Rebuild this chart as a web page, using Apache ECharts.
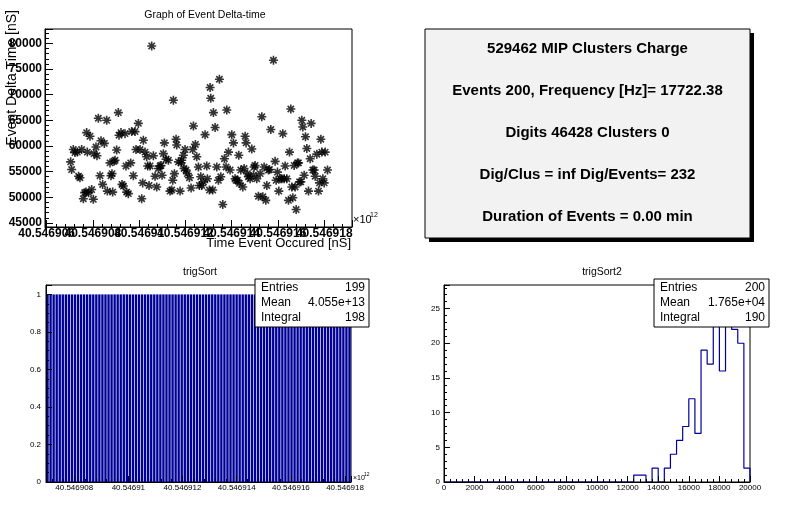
<!DOCTYPE html>
<html>
<head>
<meta charset="utf-8">
<title>MIP clusters - trigger timing</title>
<script src="https://cdn.jsdelivr.net/npm/echarts@6.0.0/dist/echarts.min.js"></script>
<style>
    html, body { margin: 0; padding: 0; background: #ffffff; }
    #canvas { width: 798px; height: 512px; }
</style>
</head>
<body>
<div id="canvas"></div>
<script>
    // time axis values are offsets from 40.5469 x10^12 nS, in units of 1e6 nS
    var timeBase = 40.5469;

    // Graph of Event Delta-time : event time / delta time [nS]
    var eventTime = [
        7.038, 7.081, 7.154, 7.226, 7.327, 7.384, 7.442, 7.514, 7.586, 7.644,
        7.702, 7.730, 7.759, 7.817, 7.875, 7.947, 8.019, 8.048, 8.134, 8.177,
        8.235, 8.307, 8.350, 8.422, 8.495, 8.596, 8.624, 8.740, 8.783, 8.826,
        8.855, 8.913, 8.956, 9.028, 9.100, 9.129, 9.216, 9.259, 9.317, 9.389,
        9.432, 9.461, 9.533, 9.634, 9.677, 9.749, 9.821, 9.864, 9.965, 10.038,
        10.110, 10.153, 10.182, 10.254, 10.326, 10.369, 10.427, 10.470, 10.542, 10.614,
        10.686, 10.758, 10.831, 10.903, 10.946, 10.989, 11.047, 11.090, 11.162, 11.263,
        11.335, 11.407, 11.451, 11.479, 11.523, 11.595, 11.624, 11.696, 11.768, 11.811,
        11.840, 11.912, 11.941, 11.984, 12.027, 12.085, 12.172, 12.244, 12.316, 12.345,
        12.431, 12.489, 12.561, 12.604, 12.662, 12.705, 12.777, 12.849, 12.921, 12.950,
        13.037, 13.066, 13.094, 13.181, 13.210, 13.282, 13.354, 13.426, 13.469, 13.527,
        13.614, 13.686, 13.758, 13.787, 13.859, 13.931, 14.003, 14.075, 14.147, 14.190,
        14.248, 14.306, 14.335, 14.392, 14.479, 14.536, 14.580, 14.623, 14.681, 14.724,
        14.796, 14.868, 14.940, 14.969, 15.012, 15.084, 15.156, 15.229, 15.301, 15.344,
        15.402, 15.474, 15.517, 15.589, 15.632, 15.690, 15.805, 15.877, 15.921, 15.978,
        16.036, 16.094, 16.166, 16.209, 16.267, 16.310, 16.382, 16.454, 16.498, 16.555,
        16.598, 16.642, 16.699, 16.742, 16.786, 16.844, 16.887, 16.930, 16.988, 17.031,
        17.074, 17.132, 17.190, 17.247, 17.319, 17.391, 17.435, 17.507, 17.565, 17.608,
        17.680, 17.752, 17.795, 17.853, 17.896, 17.940, 17.997, 18.040, 18.141
    ];
    var eventDelta = [
        56900, 55400, 59300, 58700, 58800, 54100, 53800, 59300, 49700, 50900,
        51000, 62600, 58800, 50900, 61900, 51500, 49600, 58500, 59800, 58100,
        65400, 54200, 61000, 52500, 60500, 65000, 51200, 56700, 54200, 54600,
        51000, 57000, 57200, 59200, 66500, 62100, 62600, 52500, 52200, 62400,
        56100, 51000, 50700, 56700, 62800, 54200, 62800, 59300, 64400, 59300,
        49700, 52800, 61100, 58800, 57900, 56100, 52300, 56100, 79500, 58100,
        54100, 52000, 55600, 56100, 56200, 54300, 58500, 60600, 57400, 57200,
        51200, 51400, 53300, 68900, 54600, 61300, 60200, 56900, 51200, 56700,
        57200, 58200, 55600, 59300, 55300, 54600, 53800, 51800, 59300, 63900,
        60300, 57900, 55900, 52300, 54000, 52300, 53000, 62200, 56100, 53600,
        51400, 71400, 69300, 51400, 66500, 63600, 55900, 53300, 73000, 54000,
        48600, 57500, 55900, 67000, 58800, 55300, 62200, 60600, 53600, 53300,
        53300, 58200, 52700, 55300, 52000, 55600, 61900, 60600, 54600, 54000,
        53600, 59400, 54300, 55900, 56200, 53600, 50200, 54600, 65700, 50100,
        55900, 49400, 52300, 55300, 55400, 63200, 76700, 57000, 53300, 54900,
        51200, 53600, 53600, 62400, 53600, 56100, 53600, 49400, 58800, 67200,
        52000, 49900, 56200, 52000, 47600, 56700, 56700, 53000, 53000, 65000,
        63700, 54300, 61800, 59500, 51200, 57500, 64400, 55300, 55300, 54100,
        58400, 51200, 52800, 61300, 58800, 53600, 52800, 58800, 55300
    ];

    // trigSort : one entry per trigger bin
    var trigSortBins = [
        1, 1, 1, 1, 1, 1, 1, 1, 1, 1,
        1, 1, 1, 1, 1, 1, 1, 1, 1, 1,
        1, 1, 1, 1, 1, 1, 1, 1, 1, 1,
        1, 1, 1, 1, 1, 1, 1, 1, 1, 1,
        1, 1, 1, 1, 1, 1, 1, 1, 1, 1,
        1, 1, 1, 1, 1, 1, 1, 1, 1, 1,
        1, 1, 1, 1, 1, 1, 1, 1, 1, 1,
        1, 1, 1, 1, 1, 1, 1, 1, 1, 1,
        1, 1, 1, 1, 1, 1, 1, 1, 1, 1,
        1, 1, 1, 1, 1, 1, 1, 1, 1, 1
    ];
    var trigSortRange = [6.96, 18.22];
    var trigSortStats = [['Entries', '199'], ['Mean', '4.055e+13'], ['Integral', '198']];

    // trigSort2 : 50 bins from 0 to 20000
    var trigSort2Range = [0, 20000];
    var trigSort2Counts = [
        0, 0, 0, 0, 0, 0, 0, 0, 0, 0,
        0, 0, 0, 0, 0, 0, 0, 0, 0, 0,
        0, 0, 0, 0, 0, 0, 0, 0, 0, 0,
        0, 1, 1, 0, 2, 0, 2, 4, 6, 8,
        12, 7, 19, 17, 27, 16, 24, 22, 20, 2
    ];
    var trigSort2Stats = [['Entries', '200'], ['Mean', '1.765e+04'], ['Integral', '190']];

    // summary pave
    var paveLines = [
        '529462 MIP Clusters Charge',
        'Events 200, Frequency [Hz]= 17722.38',
        'Digits 46428 Clusters 0',
        'Dig/Clus = inf Dig/Events= 232',
        'Duration of Events = 0.00 min'
    ];

    var FONT = 'Liberation Sans, Arial, Helvetica, sans-serif';
    var histColor = '#000099';

    function timeLabel(v) {
        return String(parseFloat((timeBase + v * 1e-6).toFixed(6)));
    }

    var scatterData = eventTime.map(function (t, i) {
        return [t, eventDelta[i]];
    });

    var binW = (trigSort2Range[1] - trigSort2Range[0]) / trigSort2Counts.length;
    var stepData = trigSort2Counts.map(function (c, i) {
        return [trigSort2Range[0] + i * binW, c];
    });
    stepData.push([trigSort2Range[1], 0]);

    var trigSortCats = trigSortBins.map(function (c, i) { return i; });

    // stats box like ROOT TPaveStats
    function statsBox(x, y, w, rows) {
        var els = [{
            type: 'rect', z: 100,
            shape: {x: x, y: y, width: w, height: 48},
            style: {fill: '#ffffff', stroke: '#000000', lineWidth: 1}
        }];
        rows.forEach(function (r, i) {
            var cy = y + 8.5 + i * 15.3;
            els.push({type: 'text', z: 101, style: {x: x + 6, y: cy, text: r[0], font: '12px ' + FONT, fill: '#000', align: 'left', verticalAlign: 'middle'}});
            els.push({type: 'text', z: 101, style: {x: x + w - 4, y: cy, text: r[1], font: '12px ' + FONT, fill: '#000', align: 'right', verticalAlign: 'middle'}});
        });
        return els;
    }

    var graphics = [];
    // pave with shadow
    graphics.push({type: 'rect', z: 100, shape: {x: 429, y: 33, width: 325, height: 209}, style: {fill: '#000000'}});
    graphics.push({type: 'rect', z: 101, shape: {x: 425, y: 29, width: 325, height: 209}, style: {fill: '#f2f2f2', stroke: '#000000', lineWidth: 1}});
    paveLines.forEach(function (t, i) {
        graphics.push({type: 'text', z: 102, style: {x: 587.5, y: 49 + i * 42, text: t, font: 'bold 15px ' + FONT, fill: '#000', align: 'center', verticalAlign: 'middle'}});
    });
    graphics = graphics.concat(statsBox(255, 279, 114, trigSortStats));
    graphics = graphics.concat(statsBox(654, 279, 115, trigSort2Stats));
    // axis titles of the graph
    graphics.push({type: 'text', z: 50, x: 12, y: 10, rotation: Math.PI / 2, style: {x: 0, y: 0, text: 'Event Delta Time [nS]', font: '14px ' + FONT, fill: '#000', align: 'right', verticalAlign: 'middle'}});
    graphics.push({type: 'text', z: 50, style: {x: 351, y: 243, text: 'Time Event Occured [nS]', font: '13px ' + FONT, fill: '#000', align: 'right', verticalAlign: 'middle'}});
    // x10^12 exponents
    graphics.push({type: 'text', z: 50, style: {x: 353, y: 220, text: '\u00d710', font: '11px ' + FONT, fill: '#000', align: 'left', verticalAlign: 'middle'}});
    graphics.push({type: 'text', z: 50, style: {x: 370, y: 215, text: '12', font: '7px ' + FONT, fill: '#000', align: 'left', verticalAlign: 'middle'}});
    graphics.push({type: 'text', z: 50, style: {x: 353, y: 478, text: '\u00d710', font: '7px ' + FONT, fill: '#000', align: 'left', verticalAlign: 'middle'}});
    graphics.push({type: 'text', z: 50, style: {x: 364, y: 475, text: '12', font: '5px ' + FONT, fill: '#000', align: 'left', verticalAlign: 'middle'}});

    function frameAxis(extra) {
        var base = {
            axisLine: {show: true, onZero: false, lineStyle: {color: '#000', width: 1}},
            axisTick: {show: true, inside: true, length: 6, lineStyle: {color: '#000', width: 1}},
            minorTick: {show: true, splitNumber: 5, length: 3, lineStyle: {color: '#000', width: 1}},
            splitLine: {show: false},
            minorSplitLine: {show: false},
            axisLabel: {color: '#000', fontFamily: FONT, fontSize: 8, margin: 3}
        };
        for (var k in extra) {
            if (typeof extra[k] === 'object' && base[k] && !Array.isArray(extra[k])) {
                base[k] = Object.assign({}, base[k], extra[k]);
            } else {
                base[k] = extra[k];
            }
        }
        return base;
    }

    var chart = echarts.init(document.getElementById('canvas'), null, {renderer: 'canvas'});
    var option = {
        animation: false,
        backgroundColor: '#ffffff',
        title: [
            {text: 'Graph of Event Delta-time', left: 200, top: 5, textAlign: 'center',
                textStyle: {fontFamily: FONT, fontSize: 10.5, fontWeight: 'normal', color: '#000'}},
            {text: 'trigSort', left: 195, top: 262, textAlign: 'center',
                textStyle: {fontFamily: FONT, fontSize: 10.5, fontWeight: 'normal', color: '#000'}},
            {text: 'trigSort2', left: 597, top: 262, textAlign: 'center',
                textStyle: {fontFamily: FONT, fontSize: 10.5, fontWeight: 'normal', color: '#000'}}
        ],
        grid: [
            {left: 45, top: 29, width: 307, height: 198, show: true, borderColor: '#000', borderWidth: 1, containLabel: false, outerBoundsMode: 'none'},
            {left: 46, top: 285, width: 305, height: 197, show: true, borderColor: '#000', borderWidth: 1, containLabel: false, outerBoundsMode: 'none'},
            {left: 444, top: 285, width: 306, height: 197, show: true, borderColor: '#000', borderWidth: 1, containLabel: false, outerBoundsMode: 'none'}
        ],
        xAxis: [
            frameAxis({type: 'value', gridIndex: 0, min: 5.93, max: 19.2, splitNumber: 7, z: 5,
                axisTick: {length: 7},
                axisLabel: {fontSize: 12, fontWeight: 'bold', margin: 1, showMinLabel: false, showMaxLabel: false, formatter: timeLabel}}),
            frameAxis({type: 'value', gridIndex: 1, min: trigSortRange[0], max: trigSortRange[1], splitNumber: 5, z: 5,
                axisLabel: {margin: 2, showMinLabel: false, showMaxLabel: false, formatter: timeLabel}}),
            {type: 'category', gridIndex: 1, data: trigSortCats, show: false},
            frameAxis({type: 'value', gridIndex: 2, min: trigSort2Range[0], max: trigSort2Range[1], interval: 2000, z: 5,
                axisLabel: {margin: 2, formatter: function (v) { return String(v); }}})
        ],
        yAxis: [
            frameAxis({type: 'value', gridIndex: 0, min: 44200, max: 82800, splitNumber: 8, z: 5,
                axisTick: {length: 8}, minorTick: {length: 4},
                axisLabel: {fontSize: 12, fontWeight: 'bold', margin: 3, showMinLabel: false, showMaxLabel: false, formatter: function (v) { return String(v); }}}),
            frameAxis({type: 'value', gridIndex: 1, min: 0, max: 1.05, interval: 0.2, z: 5,
                minorTick: {splitNumber: 4},
                axisLabel: {margin: 5, showMaxLabel: false}}),
            frameAxis({type: 'value', gridIndex: 2, min: 0, max: 28.4, interval: 5, z: 5,
                axisLabel: {margin: 4, showMaxLabel: false}})
        ],
        series: [
            {
                name: 'Event Delta-time',
                type: 'scatter',
                xAxisIndex: 0, yAxisIndex: 0,
                data: scatterData,
                symbol: 'path://M0,5L10,5M5,0L5,10M1.5,1.5L8.5,8.5M8.5,1.5L1.5,8.5',
                symbolSize: 9,
                itemStyle: {color: 'rgba(0,0,0,0)', borderColor: '#000', borderWidth: 1.6},
                z: 3
            },
            {
                name: 'trigSort',
                type: 'bar',
                xAxisIndex: 2, yAxisIndex: 1,
                data: trigSortBins,
                barCategoryGap: '22%',
                itemStyle: {color: histColor},
                z: 2
            },
            {
                name: 'trigSort2',
                type: 'line',
                xAxisIndex: 3, yAxisIndex: 2,
                data: stepData,
                step: 'end',
                symbol: 'none',
                lineStyle: {color: histColor, width: 1.2},
                clip: true,
                z: 2
            }
        ],
        graphic: graphics
    };
    chart.setOption(option);
</script>
</body>
</html>
